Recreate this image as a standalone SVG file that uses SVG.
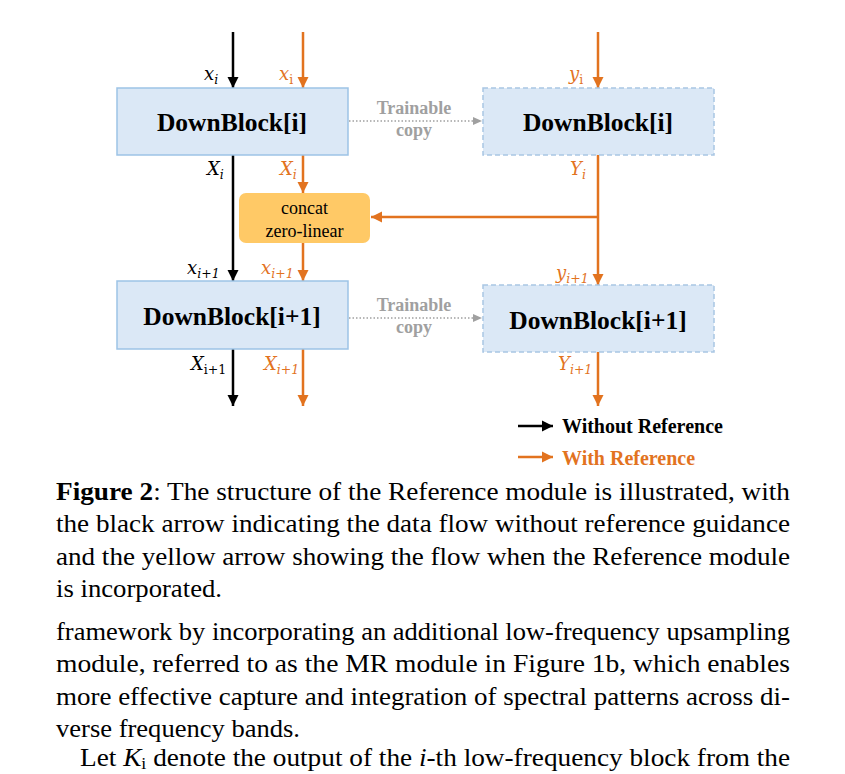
<svg xmlns="http://www.w3.org/2000/svg" width="845" height="774" viewBox="0 0 845 774">
<style>
.blk{fill:#dbe8f6;stroke:#9dc3e6;stroke-width:1.5}
.blkd{fill:#dbe8f6;stroke:#a9c6e4;stroke-width:1.5;stroke-dasharray:5 3}
.bt{font-family:"Liberation Serif",serif;font-weight:bold;font-size:25.5px;fill:#000;text-anchor:middle}
.k{stroke:#000;stroke-width:2.5;fill:none}
.o{stroke:#e2731f;stroke-width:2.5;fill:none}
.g{stroke:#a0a0a0;stroke-width:1.5;stroke-dasharray:1.5 2;fill:none}
.gt{font-family:"Liberation Serif",serif;font-weight:bold;font-size:18px;fill:#a0a0a0;text-anchor:middle}
.m{font-family:"DejaVu Serif","Liberation Serif",serif;font-style:italic;font-size:18px}
.mo{fill:#e2731f}
.sub{font-size:12.5px}
.up{font-style:normal}
.cap{font-family:"Liberation Serif",serif;font-size:26px;fill:#000}
.lg{font-family:"Liberation Serif",serif;font-weight:bold;font-size:20px}
.ct{font-family:"Liberation Serif",serif;font-size:18px;text-anchor:middle}
</style>
<defs>
<marker id="ak" markerUnits="userSpaceOnUse" markerWidth="12" markerHeight="12" refX="11" refY="6" orient="auto"><path d="M0,0.5 L11,6 L0,11.5 Z" fill="#000"/></marker>
<marker id="ao" markerUnits="userSpaceOnUse" markerWidth="12" markerHeight="12" refX="11" refY="6" orient="auto"><path d="M0,0.5 L11,6 L0,11.5 Z" fill="#e2731f"/></marker>
<marker id="ag" markerUnits="userSpaceOnUse" markerWidth="10" markerHeight="10" refX="9" refY="5" orient="auto"><path d="M0,1 L9,5 L0,9 Z" fill="#a0a0a0"/></marker>
</defs>

<g id="connectors">
<line class="k" x1="233" y1="32" x2="233" y2="88" marker-end="url(#ak)"/>
<line class="o" x1="303" y1="32" x2="303" y2="88" marker-end="url(#ao)"/>
<line class="o" x1="598" y1="32" x2="598" y2="88" marker-end="url(#ao)"/>
<line class="k" x1="233" y1="155" x2="233" y2="281" marker-end="url(#ak)"/>
<line class="o" x1="303" y1="155" x2="303" y2="193" marker-end="url(#ao)"/>
<line class="o" x1="303" y1="243" x2="303" y2="281" marker-end="url(#ao)"/>
<line class="o" x1="598" y1="155" x2="598" y2="285" marker-end="url(#ao)"/>
<line class="o" x1="599" y1="217" x2="371" y2="217" marker-end="url(#ao)"/>
<line class="k" x1="233" y1="349" x2="233" y2="406" marker-end="url(#ak)"/>
<line class="o" x1="303" y1="349" x2="303" y2="406" marker-end="url(#ao)"/>
<line class="o" x1="598" y1="352" x2="598" y2="406" marker-end="url(#ao)"/>
<line class="g" x1="349" y1="121" x2="482" y2="121" marker-end="url(#ag)"/>
<line class="g" x1="349" y1="318" x2="482" y2="318" marker-end="url(#ag)"/>
<text class="gt" x="414" y="114">Trainable</text>
<text class="gt" x="414" y="136">copy</text>
<text class="gt" x="414" y="311">Trainable</text>
<text class="gt" x="414" y="333">copy</text>
</g>

<g id="labels">
<text class="m" x="204" y="80">x<tspan class="sub" dy="4">i</tspan></text>
<text class="m mo" x="279" y="80">x<tspan class="sub up" dy="4">i</tspan></text>
<text class="m mo" x="569" y="80">y<tspan class="sub up" dy="4">i</tspan></text>
<text class="m" x="207" y="175">X<tspan class="sub" dy="4">i</tspan></text>
<text class="m mo" x="280" y="175">X<tspan class="sub" dy="4">i</tspan></text>
<text class="m mo" x="570" y="175">Y<tspan class="sub" dy="4">i</tspan></text>
<text class="m" x="187" y="274">x<tspan class="sub" dy="4">i+1</tspan></text>
<text class="m mo" x="261" y="274">x<tspan class="sub" dy="4">i+1</tspan></text>
<text class="m mo" x="556" y="279">y<tspan class="sub" dy="4">i+1</tspan></text>
<text class="m" x="191" y="370">X<tspan class="sub up" dy="4">i+1</tspan></text>
<text class="m mo" x="264" y="370">X<tspan class="sub" dy="4">i+1</tspan></text>
<text class="m mo" x="558" y="370">Y<tspan class="sub" dy="4">i+1</tspan></text>
</g>

<g id="downblock-i">
<rect class="blk" x="117" y="88" width="231" height="67"/>
<text class="bt" x="232" y="131">DownBlock[i]</text>
</g>
<g id="downblock-i-copy">
<rect class="blkd" x="483" y="88" width="231" height="67"/>
<text class="bt" x="598" y="131">DownBlock[i]</text>
</g>
<g id="concat">
<rect x="239" y="193" width="131" height="50" rx="7" fill="#ffc966"/>
<text class="ct" x="304.5" y="214">concat</text>
<text class="ct" x="304.5" y="237">zero-linear</text>
</g>
<g id="downblock-i1">
<rect class="blk" x="117" y="281" width="231" height="68"/>
<text class="bt" x="232" y="325">DownBlock[i+1]</text>
</g>
<g id="downblock-i1-copy">
<rect class="blkd" x="483" y="285" width="231" height="67"/>
<text class="bt" x="598" y="329">DownBlock[i+1]</text>
</g>

<g id="legend">
<line class="k" x1="518" y1="426" x2="553" y2="426" marker-end="url(#ak)"/>
<text class="lg" x="562" y="433" fill="#000">Without Reference</text>
<line class="o" x1="518" y1="457" x2="553" y2="457" marker-end="url(#ao)"/>
<text class="lg" x="562" y="465" fill="#e2731f">With Reference</text>
</g>

<g id="caption">
<text class="cap" x="56" y="500" textLength="734" lengthAdjust="spacingAndGlyphs"><tspan font-weight="bold">Figure 2</tspan>: The structure of the Reference module is illustrated, with</text>
<text class="cap" x="56" y="532" textLength="734" lengthAdjust="spacingAndGlyphs">the black arrow indicating the data flow without reference guidance</text>
<text class="cap" x="56" y="565" textLength="734" lengthAdjust="spacingAndGlyphs">and the yellow arrow showing the flow when the Reference module</text>
<text class="cap" x="56" y="597" textLength="166" lengthAdjust="spacingAndGlyphs">is incorporated.</text>
<text class="cap" x="56" y="640" textLength="734" lengthAdjust="spacingAndGlyphs">framework by incorporating an additional low-frequency upsampling</text>
<text class="cap" x="56" y="672" textLength="734" lengthAdjust="spacingAndGlyphs">module, referred to as the MR module in Figure 1b, which enables</text>
<text class="cap" x="56" y="705" textLength="734" lengthAdjust="spacingAndGlyphs">more effective capture and integration of spectral patterns across di-</text>
<text class="cap" x="56" y="737" textLength="244" lengthAdjust="spacingAndGlyphs">verse frequency bands.</text>
<text class="cap" x="80" y="766" textLength="710" lengthAdjust="spacingAndGlyphs">Let <tspan font-style="italic">K</tspan><tspan font-size="17" dy="3">i</tspan><tspan dy="-3"> denote the output of the </tspan><tspan font-style="italic">i</tspan>-th low-frequency block from the</text>
</g>
</svg>
